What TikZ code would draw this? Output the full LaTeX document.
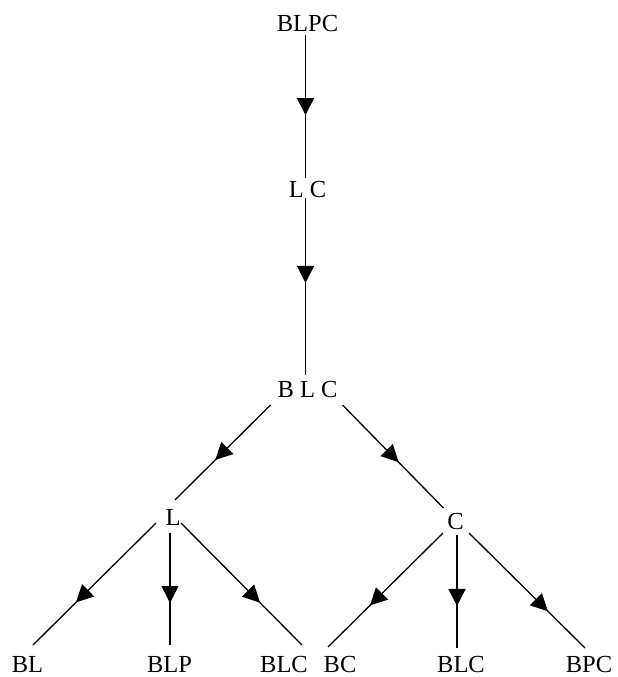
\documentclass[tikz,border=0pt]{standalone}
\usepackage{fontspec}
\setmainfont{Liberation Serif}
\usetikzlibrary{arrows.meta,decorations.markings}

\tikzset{
  lbl/.style={anchor=base, inner sep=0pt, font=\fontsize{24.5}{24.5}\selectfont},
  edge/.style={line width=1.3pt},
  midarrow/.style={edge, postaction={decorate, decoration={markings,
      mark=at position #1 with {\arrow{Triangle[width=17pt,length=17pt]}}}}}
}

\begin{document}
\begin{tikzpicture}[x=1pt, y=-1pt]
  \useasboundingbox (0,0) rectangle (618,677);

  % labels, placed by their baselines
  \node[lbl] (top)  at (307.5,32)  {BLPC};
  \node[lbl] (lc)   at (307.5,197) {L C};
  \node[lbl] (blc)  at (307.5,397) {B L C};
  \node[lbl] (l)    at (173,525)   {L};
  \node[lbl] (c)    at (455.5,529) {C};
  \node[lbl] (bl)   at (27.5,672)  {BL};
  \node[lbl] (blp)  at (169.5,672) {BLP};
  \node[lbl] (blcA) at (284,672)   {BLC};
  \node[lbl] (bc)   at (340,672)   {BC};
  \node[lbl] (blcB) at (461,672)   {BLC};
  \node[lbl] (bpc)  at (589,672)   {BPC};

  % connector end points next to each label
  \coordinate (top-o)  at ([shift={(-2,3)}]top.base);
  \coordinate (lc-i)   at ([shift={(-2,-19)}]lc.base);
  \coordinate (lc-o)   at ([shift={(-2,1)}]lc.base);
  \coordinate (blc-i)  at ([shift={(-2,-22)}]blc.base);
  \coordinate (blc-ol) at ([shift={(-37,8)}]blc.base);
  \coordinate (blc-or) at ([shift={(35,8)}]blc.base);
  \coordinate (l-i)    at ([shift={(2,-25)}]l.base);
  \coordinate (l-ol)   at ([shift={(-17,-2)}]l.base);
  \coordinate (l-om)   at ([shift={(-3,8)}]l.base);
  \coordinate (l-or)   at ([shift={(8,-2)}]l.base);
  \coordinate (c-i)    at ([shift={(-12,-21)}]c.base);
  \coordinate (c-ol)   at ([shift={(-12.5,4)}]c.base);
  \coordinate (c-om)   at ([shift={(1.5,6)}]c.base);
  \coordinate (c-or)   at ([shift={(13.5,4)}]c.base);
  \coordinate (bl-i)   at ([shift={(5.5,-27)}]bl.base);
  \coordinate (blp-i)  at ([shift={(0.5,-27)}]blp.base);
  \coordinate (blcA-i) at ([shift={(18,-27)}]blcA.base);
  \coordinate (bc-i)   at ([shift={(-12,-25)}]bc.base);
  \coordinate (blcB-i) at ([shift={(-4,-24)}]blcB.base);
  \coordinate (bpc-i)  at ([shift={(-4,-24)}]bpc.base);

  % connectors, each with its arrow head along the way
  \draw[midarrow=0.56] (top-o) -- (lc-i);
  \draw[midarrow=0.48] (lc-o) -- (blc-i);
  \draw[midarrow=0.58] (blc-ol) -- (l-i);
  \draw[midarrow=0.555] (blc-or) -- (c-i);
  \draw[midarrow=0.65] (l-ol) -- (bl-i);
  \draw[midarrow=0.625] (l-om) -- (blp-i);
  \draw[midarrow=0.653] (l-or) -- (blcA-i);
  \draw[midarrow=0.635] (c-ol) -- (bc-i);
  \draw[midarrow=0.628] (c-om) -- (blcB-i);
  \draw[midarrow=0.68] (c-or) -- (bpc-i);
\end{tikzpicture}
\end{document}
